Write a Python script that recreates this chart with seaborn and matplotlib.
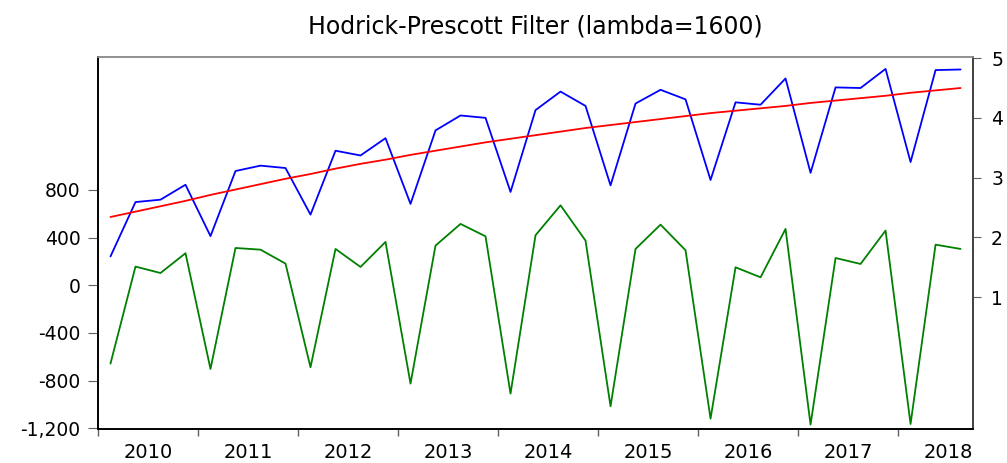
import pandas as pd
import matplotlib
matplotlib.use("Agg")
import matplotlib.pyplot as plt
import seaborn as sns

# quarterly data 2010Q1 - 2018Q3
quarters = list(range(35))
years = ["2010", "2011", "2012", "2013", "2014", "2015", "2016", "2017", "2018"]

# actual series (right axis, thousands)
actual = [1.68, 2.59, 2.63, 2.88, 2.02, 3.11, 3.20, 3.16, 2.38, 3.45,
          3.37, 3.66, 2.56, 3.79, 4.04, 4.00, 2.76, 4.13, 4.44, 4.20,
          2.87, 4.24, 4.47, 4.31, 2.96, 4.26, 4.22, 4.66, 3.08, 4.51,
          4.50, 4.82, 3.26, 4.80, 4.81]

# HP trend (right axis)
trend = [2.34, 2.43, 2.52, 2.61, 2.71, 2.80, 2.89, 2.98, 3.06, 3.15,
         3.23, 3.30, 3.38, 3.45, 3.52, 3.59, 3.65, 3.71, 3.77, 3.83,
         3.88, 3.93, 3.98, 4.03, 4.08, 4.12, 4.16, 4.20, 4.25, 4.29,
         4.33, 4.37, 4.42, 4.46, 4.50]

# cycle (left axis)
cycle = [-657, 157, 103, 269, -702, 313, 299, 182, -688, 305,
         154, 364, -825, 333, 515, 411, -909, 420, 671, 375,
         -1015, 305, 509, 294, -1119, 151, 67, 473, -1169, 229,
         179, 459, -1164, 341, 305]

df = pd.DataFrame({"q": [q + 0.5 for q in quarters],
                   "actual": actual, "trend": trend, "cycle": cycle})

sns.set_style("white")
plt.rcParams["font.family"] = ["DejaVu Sans"]
plt.rcParams["text.color"] = "black"
plt.rcParams["xtick.labelcolor"] = "black"
plt.rcParams["ytick.labelcolor"] = "black"

fig = plt.figure(figsize=(10.07, 4.63), dpi=100)
ax = fig.add_axes([0.0973, 0.0734, 0.869, 0.8036])
ax2 = ax.twinx()

sns.lineplot(data=df, x="q", y="cycle", ax=ax, color="#008000", lw=1.3)
sns.lineplot(data=df, x="q", y="actual", ax=ax2, color="#0000ff", lw=1.3)
sns.lineplot(data=df, x="q", y="trend", ax=ax2, color="#ff0000", lw=1.3)

ax.set_xlim(0, 35)
ax.set_ylim(-1206, 1916)
ax2.set_ylim(-1.21, 5.02)

ax.set_yticks([-1200, -800, -400, 0, 400, 800])
ax.set_yticklabels(["-1,200", "-800", "-400", "0", "400", "800"])
ax2.set_yticks([1, 2, 3, 4, 5])
ax2.set_yticklabels(["1", "2", "3", "4", "5"])

# year labels at the middle of each year, quarter ticks, longer ticks at year starts
ax.set_xticks([4 * i + 2 for i in range(len(years))])
ax.set_xticklabels(years)
ax.set_xticks(quarters + [35], minor=True)
ax.tick_params(axis="x", which="major", length=0, pad=10, labelsize=14)
ax.tick_params(axis="x", which="minor", length=3, color="#606060", width=1)
sec = ax.secondary_xaxis("bottom")
sec.set_xticks([4 * i for i in range(len(years))])
sec.tick_params(length=5, color="#606060", width=1, labelbottom=False)
sec.spines["bottom"].set_visible(False)

ax.tick_params(axis="y", length=7, pad=5.5, color="#606060", labelsize=13.5, left=True)
ax2.tick_params(axis="y", length=6, pad=7, color="#606060", labelsize=13.5, right=True)

ax.set_xlabel("")
ax.set_ylabel("")
ax2.set_ylabel("")

for a in (ax, ax2):
    a.spines["left"].set_color("black")
    a.spines["bottom"].set_color("black")
    a.spines["right"].set_color("#404040")
    a.spines["top"].set_color("#909090")
    for s in a.spines.values():
        s.set_linewidth(1.2)

ax.set_title("Hodrick-Prescott Filter (lambda=1600)", fontsize=17, pad=17)

fig.savefig("out.png", dpi=100)
